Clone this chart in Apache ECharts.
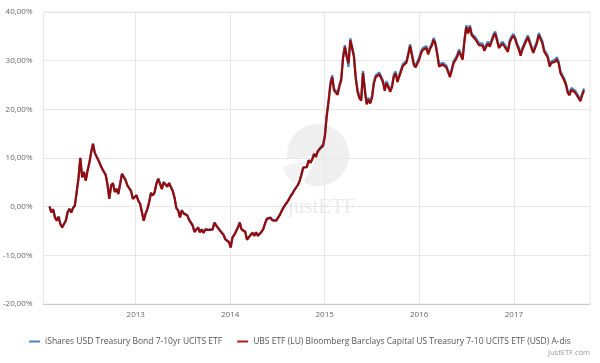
<!DOCTYPE html>
<html>
<head>
<meta charset="utf-8">
<script src="https://cdn.jsdelivr.net/npm/echarts@6/dist/echarts.min.js"></script>
<style>html,body{margin:0;padding:0;background:#fff}#c{width:600px;height:363px}</style>
</head>
<body>
<div id="c"></div>
<script>
const seriesNames = [
  'iShares USD Treasury Bond 7-10yr UCITS ETF',
  'UBS ETF (LU) Bloomberg Barclays Capital US Treasury 7-10 UCITS ETF (USD) A-dis'
];
const yTicks = [-20, -10, 0, 10, 20, 30, 40];
const dates = [
'2012-02-03','2012-02-10','2012-02-17','2012-02-24','2012-03-02','2012-03-09','2012-03-16','2012-03-23','2012-03-30','2012-04-06','2012-04-13','2012-04-20','2012-04-27','2012-05-04','2012-05-11','2012-05-18','2012-05-25','2012-06-01','2012-06-08','2012-06-15','2012-06-22','2012-06-29','2012-07-06','2012-07-13','2012-07-20','2012-07-27','2012-08-03','2012-08-10','2012-08-17','2012-08-24','2012-08-31','2012-09-07','2012-09-14','2012-09-21','2012-09-28','2012-10-05','2012-10-12','2012-10-19','2012-10-26','2012-11-02','2012-11-09','2012-11-16','2012-11-23','2012-11-30','2012-12-07','2012-12-14','2012-12-21','2012-12-28',
'2013-01-04','2013-01-11','2013-01-18','2013-01-25','2013-02-01','2013-02-08','2013-02-15','2013-02-22','2013-03-01','2013-03-08','2013-03-15','2013-03-22','2013-03-29','2013-04-05','2013-04-12','2013-04-19','2013-04-26','2013-05-03','2013-05-10','2013-05-17','2013-05-24','2013-05-31','2013-06-07','2013-06-14','2013-06-21','2013-06-28','2013-07-05','2013-07-12','2013-07-19','2013-07-26','2013-08-02','2013-08-09','2013-08-16','2013-08-23','2013-08-30','2013-09-06','2013-09-13','2013-09-20','2013-09-27','2013-10-04','2013-10-11','2013-10-18','2013-10-25','2013-11-01','2013-11-08','2013-11-15','2013-11-22','2013-11-29','2013-12-06','2013-12-13','2013-12-20','2013-12-27',
'2014-01-03','2014-01-10','2014-01-17','2014-01-24','2014-01-31','2014-02-07','2014-02-14','2014-02-21','2014-02-28','2014-03-07','2014-03-14','2014-03-21','2014-03-28','2014-04-04','2014-04-11','2014-04-18','2014-04-25','2014-05-02','2014-05-09','2014-05-16','2014-05-23','2014-05-30','2014-06-06','2014-06-13','2014-06-20','2014-06-27','2014-07-04','2014-07-11','2014-07-18','2014-07-25','2014-08-01','2014-08-08','2014-08-15','2014-08-22','2014-08-29','2014-09-05','2014-09-12','2014-09-19','2014-09-26','2014-10-03','2014-10-10','2014-10-17','2014-10-24','2014-10-31','2014-11-07','2014-11-14','2014-11-21','2014-11-28','2014-12-05','2014-12-12','2014-12-19','2014-12-26',
'2015-01-02','2015-01-09','2015-01-16','2015-01-23','2015-01-30','2015-02-06','2015-02-13','2015-02-20','2015-02-27','2015-03-06','2015-03-13','2015-03-20','2015-03-27','2015-04-03','2015-04-10','2015-04-17','2015-04-24','2015-05-01','2015-05-08','2015-05-15','2015-05-22','2015-05-29','2015-06-05','2015-06-12','2015-06-19','2015-06-26','2015-07-03','2015-07-10','2015-07-17','2015-07-24','2015-07-31','2015-08-07','2015-08-14','2015-08-21','2015-08-28','2015-09-04','2015-09-11','2015-09-18','2015-09-25','2015-10-02','2015-10-09','2015-10-16','2015-10-23','2015-10-30','2015-11-06','2015-11-13','2015-11-20','2015-11-27','2015-12-04','2015-12-11','2015-12-18','2015-12-25',
'2016-01-01','2016-01-08','2016-01-15','2016-01-22','2016-01-29','2016-02-05','2016-02-12','2016-02-19','2016-02-26','2016-03-04','2016-03-11','2016-03-18','2016-03-25','2016-04-01','2016-04-08','2016-04-15','2016-04-22','2016-04-29','2016-05-06','2016-05-13','2016-05-20','2016-05-27','2016-06-03','2016-06-10','2016-06-17','2016-06-24','2016-07-01','2016-07-08','2016-07-15','2016-07-22','2016-07-29','2016-08-05','2016-08-12','2016-08-19','2016-08-26','2016-09-02','2016-09-09','2016-09-16','2016-09-23','2016-09-30','2016-10-07','2016-10-14','2016-10-21','2016-10-28','2016-11-04','2016-11-11','2016-11-18','2016-11-25','2016-12-02','2016-12-09','2016-12-16','2016-12-23','2016-12-30',
'2017-01-06','2017-01-13','2017-01-20','2017-01-27','2017-02-03','2017-02-10','2017-02-17','2017-02-24','2017-03-03','2017-03-10','2017-03-17','2017-03-24','2017-03-31','2017-04-07','2017-04-14','2017-04-21','2017-04-28','2017-05-05','2017-05-12','2017-05-19','2017-05-26','2017-06-02','2017-06-09','2017-06-16','2017-06-23','2017-06-30','2017-07-07','2017-07-14','2017-07-21','2017-07-28','2017-08-04','2017-08-11','2017-08-18','2017-08-25','2017-09-01','2017-09-08','2017-09-15','2017-09-22','2017-09-29'
];
const ubsValues = [
0.0,-1.2,-0.6,-2.2,-2.9,-2.1,-3.6,-4.3,-4.6,-2.9,
-1.2,-0.5,-1.2,-0.3,0.2,3.0,5.8,10.0,6.0,7.1,
5.3,7.4,9.0,11.2,12.9,11.0,10.8,9.5,9.8,7.8,
8.1,6.5,4.5,1.6,4.3,4.8,3.0,3.6,2.6,4.7,
6.7,7.1,5.4,4.3,4.6,3.2,1.6,1.6,2.3,1.2,
0.6,0.2,-2.9,-1.5,-0.5,0.9,2.8,2.3,2.9,4.7,
5.7,6.0,3.6,5.0,5.1,4.1,4.8,4.8,3.2,1.8,
-0.3,-0.8,-2.2,-0.8,-1.4,-1.0,-1.8,-2.7,-3.1,-3.9,
-5.2,-5.6,-4.3,-5.3,-4.7,-5.4,-4.7,-4.8,-4.8,-5.2,
-4.7,-3.3,-3.9,-4.3,-4.9,-4.8,-5.8,-6.7,-6.9,-7.3,
-8.4,-6.3,-5.8,-5.6,-4.3,-3.3,-4.7,-4.7,-5.2,-6.8,
-6.3,-6.5,-5.4,-6.0,-5.3,-6.0,-5.9,-5.2,-4.6,-3.4,
-2.5,-2.4,-2.3,-2.8,-2.5,-2.9,-3.1,-1.8,-1.0,-0.3,
0.3,0.8,1.4,2.1,2.6,3.3,2.9,4.4,5.2,6.5,
8.0,8.3,8.1,9.5,9.0,9.7,10.8,10.2,11.3,11.8,
11.7,12.5,14.5,18.6,21.5,25.0,26.6,23.9,24.3,23.0,
24.7,26.0,30.5,32.8,30.8,29.5,34.2,32.5,30.8,26.3,
23.6,22.3,21.8,27.5,24.0,21.0,22.0,21.2,22.4,25.3,
26.6,26.4,27.2,27.1,25.6,23.8,25.4,25.3,23.6,24.5,
26.7,27.4,25.6,25.8,27.8,28.9,28.5,29.6,31.2,33.0,
31.1,29.2,28.6,28.2,30.2,31.5,32.2,32.0,32.6,31.3,
32.4,33.1,34.3,33.3,31.2,28.8,29.0,29.2,29.6,28.6,
28.7,26.6,28.0,29.5,30.1,30.8,31.9,31.5,30.2,34.0,
36.9,35.6,36.9,35.2,35.3,34.4,34.2,33.2,33.4,33.1,
32.0,32.9,33.5,32.9,33.9,35.0,35.6,34.1,32.6,32.3,
33.5,33.0,33.0,31.8,33.8,34.6,35.1,34.4,33.2,32.3,
31.0,32.3,32.5,34.0,34.8,33.7,32.6,31.6,31.4,33.6,
35.3,35.5,33.6,31.9,32.1,30.6,28.8,29.5,29.9,29.8,
30.3,29.4,27.4,26.7,26.0,25.0,23.4,22.9,24.0,24.1,
23.5,22.9,22.6,21.7,22.9,23.9
];
const isharesValues = [
0.1,-1.1,-0.5,-2.1,-2.8,-2.0,-3.5,-4.2,-4.5,-2.8,
-1.1,-0.4,-1.1,-0.2,0.3,3.1,5.9,10.1,6.1,7.2,
5.4,7.5,9.1,11.3,13.0,11.1,10.9,9.6,9.9,7.9,
8.2,6.6,4.6,1.7,4.4,4.9,3.1,3.7,2.7,4.8,
6.8,7.2,5.5,4.4,4.7,3.3,1.7,1.7,2.4,1.3,
0.7,0.3,-2.8,-1.4,-0.4,1.0,2.9,2.4,3.0,4.8,
5.8,6.1,3.7,5.1,5.2,4.2,4.9,4.9,3.3,1.9,
-0.2,-0.7,-2.1,-0.7,-1.3,-0.9,-1.7,-2.6,-3.0,-3.8,
-5.1,-5.5,-4.2,-5.2,-4.6,-5.3,-4.6,-4.7,-4.7,-5.1,
-4.6,-3.2,-3.8,-4.2,-4.8,-4.7,-5.7,-6.6,-6.8,-7.2,
-8.3,-6.2,-5.7,-5.5,-4.2,-3.2,-4.6,-4.6,-5.1,-6.7,
-6.2,-6.4,-5.3,-5.9,-5.2,-5.9,-5.8,-5.1,-4.5,-3.3,
-2.4,-2.3,-2.2,-2.7,-2.4,-2.8,-3.0,-1.7,-0.9,-0.2,
0.4,0.9,1.5,2.2,2.7,3.4,3.0,4.5,5.3,6.6,
8.1,8.4,8.2,9.6,9.1,9.8,10.9,10.3,11.4,11.9,
11.8,12.9,14.9,19.0,21.9,25.4,27.0,24.3,24.7,23.4,
25.1,26.4,30.9,33.2,31.2,28.7,34.6,32.9,31.2,26.7,
24.0,22.7,22.2,27.9,24.4,21.4,22.4,21.6,22.8,25.7,
27.0,26.8,27.6,27.5,26.0,24.2,25.8,25.7,24.0,24.9,
27.1,27.8,26.0,26.2,28.2,29.3,28.9,30.0,31.6,33.4,
31.5,29.6,29.0,28.6,30.6,31.9,32.6,32.4,33.0,31.7,
32.8,33.5,34.7,33.7,31.6,29.2,29.4,29.6,30.0,29.0,
29.1,27.0,28.4,29.9,30.5,31.2,32.3,31.9,30.6,34.4,
37.3,36.0,37.3,35.6,35.7,34.8,34.6,33.6,33.8,33.5,
32.4,33.3,33.9,33.3,34.3,35.4,36.0,34.5,33.0,32.7,
33.9,33.4,33.4,32.2,34.2,35.0,35.5,34.8,33.6,32.7,
31.4,32.7,32.9,34.4,35.2,34.1,33.0,32.0,31.8,34.0,
35.7,35.9,34.0,32.3,32.5,31.0,29.2,29.9,30.3,30.2,
30.7,29.8,27.8,27.1,26.4,25.4,23.8,23.3,24.4,24.5,
23.9,23.3,23.0,22.1,23.3,24.3
];
const xAxisStart = '2012-01-11';
const xAxisEnd = '2017-10-22';
const yearTicks = ['2013-01-01','2014-01-01','2015-01-01','2016-01-01','2017-01-01'];

const FONT = '"Open Sans", "DejaVu Sans", sans-serif';
const ts = (d) => Date.UTC(+d.slice(0, 4), +d.slice(5, 7) - 1, +d.slice(8, 10));
const chart = echarts.init(document.getElementById('c'), null, {renderer: 'canvas'});
const pairs = (vals) => dates.map((d, i) => [ts(d), vals[i]]);
const yearTs = yearTicks.map(ts);
const deg = Math.PI / 180;

chart.setOption({
  animation: false,
  textStyle: {fontFamily: FONT},
  grid: {left: 42, right: 10, top: 12, bottom: 59, show: true, borderColor: '#e6e6e6', borderWidth: 1},
  graphic: [
    {type: 'sector', z: -1, shape: {cx: 318, cy: 155, r: 31, r0: 0, startAngle: 172 * deg, endAngle: 478 * deg, clockwise: true}, style: {fill: '#efefef'}, silent: true},
    {type: 'sector', z: -1, shape: {cx: 313, cy: 159, r: 31, r0: 0, startAngle: 126 * deg, endAngle: 166 * deg, clockwise: true}, style: {fill: '#f3f3f3'}, silent: true},
    {type: 'text', z: -1, left: 288, top: 197, style: {text: 'justETF', font: '21px "Liberation Serif", "DejaVu Serif", serif', fill: '#ebebeb'}, silent: true},
    {type: 'text', right: 10, top: 349, style: {text: 'justETF.com', font: '7.5px ' + FONT, fill: '#9a9a9a'}, silent: true}
  ],
  legend: {
    top: 332, left: 'center', itemGap: 15, itemWidth: 11, itemHeight: 2, icon: 'rect',
    textStyle: {fontSize: 8.5, color: '#555', fontFamily: FONT},
    data: seriesNames
  },
  xAxis: {
    type: 'value', min: ts(xAxisStart), max: ts(xAxisEnd),
    axisLine: {show: true, onZero: false, lineStyle: {color: '#c8c8c8'}},
    axisTick: {show: false, customValues: yearTs},
    axisLabel: {customValues: yearTs, formatter: (v) => String(new Date(v).getUTCFullYear()), color: '#666', fontSize: 8, margin: 7, fontFamily: FONT},
    splitLine: {show: true, lineStyle: {color: '#e6e6e6', width: 1}}
  },
  yAxis: {
    type: 'value', min: yTicks[0], max: yTicks[yTicks.length - 1], interval: 10,
    axisLine: {show: false}, axisTick: {show: false},
    axisLabel: {formatter: (v) => v.toFixed(2).replace('.', ',') + '%', color: '#666', fontSize: 8, margin: 11, fontFamily: FONT},
    splitLine: {lineStyle: {color: '#e6e6e6', width: 1}}
  },
  series: [
    {name: seriesNames[0], type: 'line', data: pairs(isharesValues), showSymbol: false, symbol: 'none',
     lineStyle: {color: '#4b86c3', width: 2.2}, itemStyle: {color: '#4b86c3'}, z: 2},
    {name: seriesNames[1], type: 'line', data: pairs(ubsValues), showSymbol: false, symbol: 'none',
     lineStyle: {color: '#960a0a', width: 2.2}, itemStyle: {color: '#b01c1c'}, z: 3}
  ]
});
</script>
</body>
</html>
